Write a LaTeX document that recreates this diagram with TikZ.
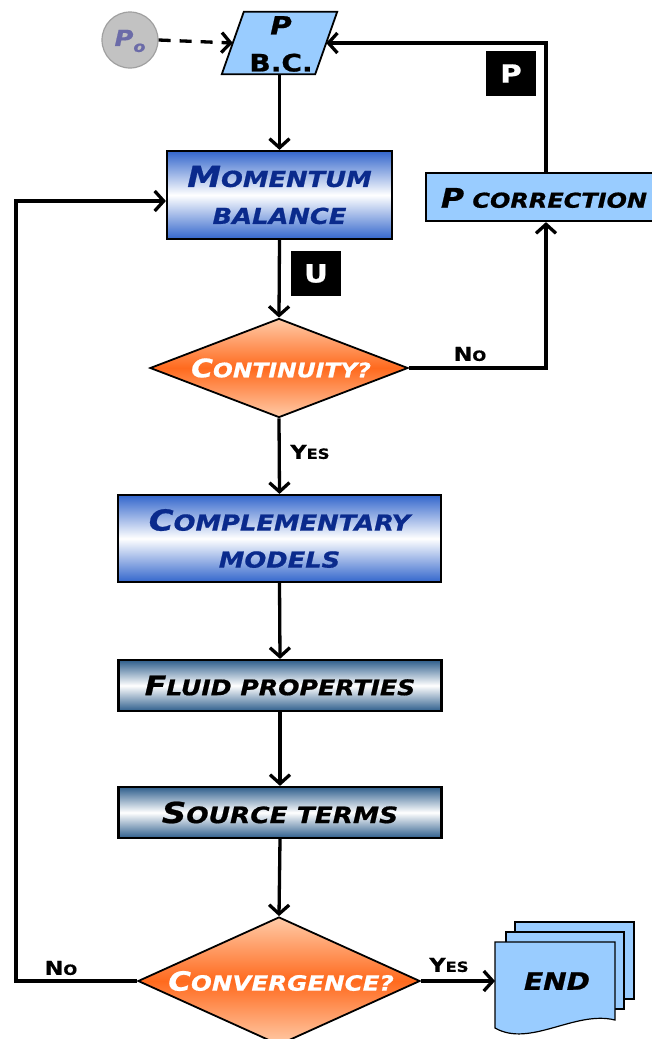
\documentclass[tikz,border=0pt]{standalone}
\usepackage{fontspec}
\newfontfamily\cpfont{DejaVu Sans}[FakeStretch=1.17,FakeBold=0.8]
\usetikzlibrary{shapes.geometric,arrows.meta,calc}
\definecolor{lblue}{HTML}{99CCFF}
\definecolor{mblue}{HTML}{3366CC}
\definecolor{txtblue}{HTML}{0A2A8C}
\definecolor{steel}{HTML}{2E5E8C}
\definecolor{orng}{HTML}{FF6A1E}
\definecolor{pale}{HTML}{FFCBA8}
\definecolor{pocol}{HTML}{6B6BA8}
\definecolor{pofill}{HTML}{C2C2C2}
\definecolor{poedge}{HTML}{A0A0A0}
\newcommand\Lg[2]{{\fontsize{#1}{#1}\selectfont #2}}
\begin{document}
\begin{tikzpicture}[x=1pt,y=-1pt,
  arr/.style={line width=3.3pt,-{Straight Barb[length=9pt,width=20pt]}},
  bluebox/.style={draw,line width=2.2pt,inner sep=0pt,top color=mblue,bottom color=mblue,middle color=white,
     font=\cpfont\bfseries\itshape\fontsize{22}{37}\selectfont,text=txtblue,align=center},
  steelbox/.style={draw,line width=2.2pt,inner sep=0pt,top color=steel,bottom color=steel,middle color=white,
     font=\cpfont\bfseries\itshape\fontsize{21.5}{37}\selectfont,text=black,align=center},
  decision/.style={diamond,draw,line width=1.8pt,inner sep=0pt,top color=pale,bottom color=pale,middle color=orng},
  dectext/.style={font=\cpfont\bfseries\itshape,text=white,inner sep=0pt},
  tag/.style={fill=black,text=white,inner sep=0pt,minimum width=50pt,minimum height=45pt,
     font=\cpfont\bfseries\fontsize{25}{25}\selectfont},
  answer/.style={font=\cpfont\bfseries\fontsize{14}{14}\selectfont,inner sep=0pt},
  doc/.style={fill=lblue,draw=black,line width=1.2pt}
]
\useasboundingbox (0,0) rectangle (652,1039);
\clip (0,0) rectangle (652,1039);

% --- nodes ---
\node[circle,fill=pofill,draw=poedge,line width=1.2pt,minimum size=56pt,inner sep=0pt] (po) at (130,40) {};
\node[text=pocol,font=\cpfont\bfseries\itshape\fontsize{22}{22}\selectfont,inner sep=0pt] (potext) at (130,41)
  {P\raisebox{-6pt}{\fontsize{15}{15}\selectfont o}};

% parallelogram P / B.C.
\node[inner sep=0pt,minimum width=93pt,minimum height=62pt] (bc) at (279.5,43) {};
\filldraw[fill=lblue,draw=black,line width=1.8pt]
  ($(bc.south west)+(-11,0)$) -- ($(bc.south east)+(-11,0)$) -- ($(bc.north east)+(11,0)$) -- ($(bc.north west)+(11,0)$) -- cycle;
\node[font=\cpfont\bfseries\fontsize{24}{37}\selectfont,align=center,inner sep=0pt] (bctext) at (281,44)
  {\Lg{25}{\itshape P}\\B.C.};

\node[bluebox,minimum width=225pt,minimum height=88pt] (mom) at (279.5,195)
  {\Lg{29}{M}OMENTUM\\BALANCE};

\node[tag] (utag) at (316,273.5) {U};

\node[decision,minimum width=258pt,minimum height=99pt] (cont) at (279,368) {};
\node[dectext,font=\cpfont\bfseries\itshape\fontsize{20}{20}\selectfont] (conttext) at (281,368)
  {\Lg{25.5}{C}ONTINUITY?};

\node[draw,line width=2.2pt,fill=lblue,inner sep=0pt,minimum width=234pt,minimum height=48pt] (pcor) at (543,197) {};
\node[font=\cpfont\bfseries\itshape\fontsize{20.5}{20.5}\selectfont,inner sep=0pt] (pcortext) at (544,198)
  {\Lg{27}{P} CORRECTION};

\node[tag] (ptag) at (511,73.5) {P};

\node[bluebox,minimum width=323pt,minimum height=87pt] (comp) at (279.5,538.5)
  {\Lg{29}{C}OMPLEMENTARY\\MODELS};

\node[steelbox,minimum width=323pt,minimum height=51pt] (fluid) at (280,685.5)
  {\Lg{27}{F}LUID PROPERTIES};

\node[steelbox,minimum width=323pt,minimum height=51pt] (src) at (280,812.5)
  {\Lg{29}{S}\fontsize{22.5}{22.5}\selectfont OURCE TERMS};

\node[decision,minimum width=282pt,minimum height=128pt] (conv) at (279,981) {};
\node[dectext,font=\cpfont\bfseries\itshape\fontsize{21}{21}\selectfont] (convtext) at (281,981)
  {\Lg{26.5}{C}ONVERGENCE?};

% END document stack
\filldraw[doc] (515,922) rectangle (634,999);
\filldraw[doc] (506,932) rectangle (624,1009);
\filldraw[doc] (495,942) -- (615,942) -- (615,1020) .. controls (575,1010) and (530,1048) .. (495,1028) -- cycle;
\node[font=\cpfont\bfseries\itshape\fontsize{24}{24}\selectfont,inner sep=0pt] (endtext) at (557,981) {END};
\coordinate (endin) at (495,981);

% labels
\node[answer] (no1) at (470,354) {\Lg{19}{N}O};
\node[answer] (yes1) at (310,452) {\Lg{19}{Y}ES};
\node[answer] (no2) at (61,968) {\Lg{19}{N}O};
\node[answer] (yes2) at (449,965) {\Lg{19}{Y}ES};

% helper coordinates
\coordinate (noturn) at (546,368);
\coordinate (loopc) at (16,981);
\coordinate (momin) at ($(mom.west)+(0,6)$);

% --- connectors ---
\draw[arr,dash pattern=on 12pt off 9pt] (po.east) -- (bc.west);
\draw[arr] (bc.south) -- (mom.north);
\draw[arr] (mom.south) -- (cont.north);
\draw[arr] (cont.east) -- (noturn) -- (noturn |- pcor.south);
\draw[arr] (noturn |- pcor.north) -- (noturn |- bc.east) -- (bc.east);
\draw[arr] (cont.south) -- (comp.north);
\draw[arr] (comp.south) -- (fluid.north);
\draw[arr] (fluid.south) -- (src.north);
\draw[arr] (src.south) -- (conv.north);
\draw[arr] (conv.east) -- (endin);
\draw[arr] (conv.west) -- (loopc) -- (loopc |- momin) -- (momin);
\end{tikzpicture}
\end{document}
